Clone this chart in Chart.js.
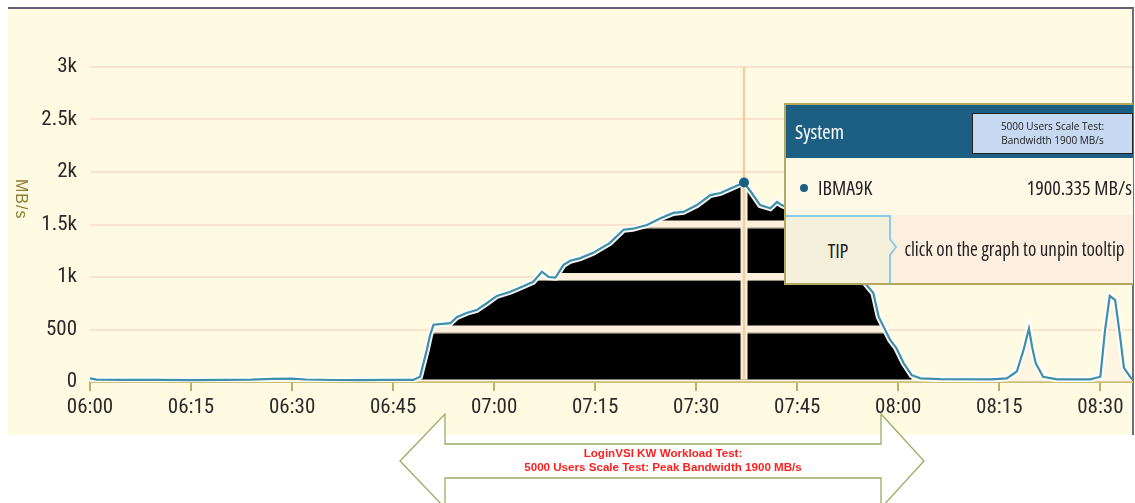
<!DOCTYPE html>
<html>
<head>
<meta charset="utf-8">
<script src="https://cdn.jsdelivr.net/npm/chart.js@4.4.0/dist/chart.umd.min.js"></script>
<style>
  html, body { margin:0; padding:0; background:#ffffff; width:1135px; height:503px; overflow:hidden; }
  body { position:relative; font-family:'Open Sans','Roboto Condensed',sans-serif; font-stretch:condensed; }
  #frame { position:absolute; left:8px; top:7px; width:1124px; height:426px; background:#fffbe3; border-top:2px solid #5f6272; border-right:2px solid #6c6e7c; }
  #wrap { position:absolute; left:0; top:0; width:1135px; height:503px; }
  #ylab { position:absolute; left:1px; top:190px; width:40px; text-align:center; transform:rotate(90deg); color:#8c7b30; font-family:'Liberation Sans','DejaVu Sans',sans-serif; font-stretch:normal; font-size:16px; letter-spacing:1px; }
  #tip { position:absolute; left:784px; top:103px; width:347px; height:178px; border:2px solid #b3a85e; border-right:none; background:#fdf9e6; }
  #tiphead { position:absolute; left:0; top:0; width:347px; height:53px; background:#1c5f83; }
  #tiphead .sys { position:absolute; left:9px; top:13px; color:#ffffff; font-size:20px; }
  #note { position:absolute; left:186px; top:8px; width:161px; height:41px; background:#c6d9f1; border:1px solid #222; font-family:'Open Sans','Noto Sans',sans-serif; font-stretch:normal; font-size:10px; line-height:14px; color:#1a1a1a; text-align:center; padding-top:5px; box-sizing:border-box; }
  #row { position:absolute; left:0; top:53px; width:347px; height:57px; }
  #row .dot { position:absolute; left:14px; top:26px; width:8px; height:8px; border-radius:50%; background:#1c5f83; }
  #row .name { position:absolute; left:32px; top:16px; font-size:20px; color:#222; }
  #row .val { position:absolute; right:1px; top:16px; font-size:20px; color:#222; }
  #tiprow { position:absolute; left:0; top:110px; width:347px; height:68px; background:#fcefdf; }
  #tiprow .lbl { position:absolute; left:0; top:0; width:104px; height:66px; background:#f5f0dc; border-top:2px solid #8ccbe8; }
  #tiprow svg { position:absolute; left:98px; top:0; }
  #tiprow .lbl span { position:absolute; left:0; width:104px; top:20px; text-align:center; font-size:20px; color:#222; }
  #tiprow .msg { position:absolute; left:110px; width:237px; top:21px; text-align:center; font-size:19px; color:#222; white-space:nowrap; }
  #arrow { position:absolute; left:0; top:0; }
  #atext { position:absolute; left:440px; top:446px; width:446px; text-align:center; color:#ff1f1f; font-family:'Liberation Sans','Arial',sans-serif; font-stretch:normal; font-weight:bold; font-size:11.6px; line-height:14px; }
</style>
</head>
<body>
<div id="frame"></div>
<div id="wrap"><canvas id="c" width="1135" height="503"></canvas></div>
<div id="ylab">MB/s</div>

<svg id="arrow" width="1135" height="503">
  <polygon points="400,461 445,414 445,444 881,444 881,414 924,461 881,508 881,478 445,478 445,508" fill="#ffffff" stroke="#9aad62" stroke-width="1.3"/>
</svg>
<div id="atext">LoginVSI KW Workload Test:<br>5000 Users Scale Test: Peak Bandwidth 1900 MB/s</div>

<div id="tip">
  <div id="tiphead"><span class="sys">System</span>
    <div id="note">5000 Users Scale Test:<br>Bandwidth 1900 MB/s</div>
  </div>
  <div id="row"><div class="dot"></div><span class="name">IBMA9K</span><span class="val">1900.335 MB/s</span></div>
  <div id="tiprow">
    <div class="lbl"><span>TIP</span></div>
    <svg width="14" height="68"><polyline points="6,0 6,24 12,32 6,40 6,68" fill="#f5f0dc" stroke="#8ccbe8" stroke-width="2"/></svg>
    <div class="msg">click on the graph to unpin tooltip</div>
  </div>
</div>

<script>
// ---- data (minutes after 06:00, MB/s) ----
const times = [0,1,5,10,15,20,24,27,30,32,36,40,44,48,49,50,50.5,51,53.5,54.5,56,57.4,58.9,60.4,62.4,64.4,65.8,67.1,68.1,69.1,70.3,71.3,72.8,74.7,77.2,79.2,80.6,82.7,84.7,86.6,88.1,90.1,92.1,93.6,95.5,97.1,98.3,99.5,101,102,102.7,104,106,108,110,112.5,114,114.9,116.3,117.1,118.8,119.7,120.8,122,123.3,126.2,133.7,136.1,137.6,138.6,139.4,139.9,140.4,141.5,143.6,148.5,150,150.7,151.4,152.2,153,153.5,154.7];
const mbps = [35,22,20,21,18,20,22,30,32,24,19,18,20,20,50,305,450,545,560,620,660,685,750,820,860,915,955,1050,1000,995,1115,1155,1180,1230,1325,1450,1460,1495,1560,1610,1620,1685,1780,1800,1855,1900,1795,1685,1655,1715,1685,1650,1600,1540,1470,1350,1120,955,848,620,400,325,180,65,35,28,25,35,100,305,510,325,180,50,25,25,50,495,820,780,400,135,25];
const peakWindow = [49, 122];               // highlighted (black) test window
const xTickLabels = ['06:00','06:15','06:30','06:45','07:00','07:15','07:30','07:45','08:00','08:15','08:30'];
const yTickLabels = ['0','500','1k','1.5k','2k','2.5k','3k'];

const linePts = times.map((t,i)=>({x:t, y:mbps[i]}));
const blackPts = times.map((t,i)=>({x:t, y:(t>=peakWindow[0] && t<=peakWindow[1]) ? mbps[i] : null}));
const peakIdx = mbps.indexOf(Math.max(...mbps));
const AXFONT = "'Roboto Condensed','Liberation Sans',sans-serif";

const overlay = {
  id:'overlay',
  afterDatasetDraw(chart, args){
    if (args.index !== 1) return;
    const ctx = chart.ctx, xs = chart.scales.x, ys = chart.scales.y, ca = chart.chartArea;
    const pts = chart.getDatasetMeta(1).data.filter(p=>!p.skip);
    const base = ys.getPixelForValue(25);
    const cx = xs.getPixelForValue(times[peakIdx]);
    ctx.save();
    ctx.beginPath();
    ctx.moveTo(pts[0].x, base);
    pts.forEach(p=>ctx.lineTo(p.x, p.y));
    ctx.lineTo(pts[pts.length-1].x, base);
    ctx.closePath();
    ctx.clip();
    [500,1000,1500,2000,2500].forEach(v=>{
      const y = ys.getPixelForValue(v);
      ctx.fillStyle = '#fcf0dd';
      ctx.fillRect(ca.left, y-4, ca.right-ca.left, 8);
      ctx.fillStyle = 'rgba(90,80,60,0.6)';
      ctx.fillRect(ca.left, y+3, ca.right-ca.left, 1);
    });
    ctx.fillStyle = '#fcf0dd';
    ctx.fillRect(cx-3.5, ca.top, 7, ca.bottom-ca.top);
    ctx.restore();
    ctx.save();
    ctx.strokeStyle = '#f0cfa2';
    ctx.lineWidth = 2.5;
    ctx.beginPath();
    ctx.moveTo(cx, ys.getPixelForValue(3000));
    ctx.lineTo(cx, ca.bottom);
    ctx.stroke();
    ctx.restore();
  }
};

new Chart(document.getElementById('c'), {
  type:'line',
  data:{
    datasets:[
      { data:linePts, order:4, borderWidth:0, borderColor:'rgba(0,0,0,0)', pointRadius:0, fill:{value:0}, backgroundColor:'rgba(250,232,222,0.3)', tension:0 },
      { data:blackPts, order:3, borderWidth:0, borderColor:'rgba(0,0,0,0)', pointRadius:0, fill:{value:25}, backgroundColor:'#000000', spanGaps:false, tension:0 },
      { data:linePts, order:2, borderWidth:6, borderColor:'rgba(255,255,255,0.95)', pointRadius:0, fill:false, tension:0 },
      { data:linePts, order:1, borderWidth:2.2, borderColor:'#3f8fa8', tension:0, fill:false,
        pointRadius:(c)=>c.dataIndex===peakIdx?5:0, pointBackgroundColor:'#1c5f83', pointBorderWidth:0 }
    ]
  },
  options:{
    responsive:false, animation:false, events:[],
    layout:{ padding:{ left:0, right:3, top:67, bottom:0 } },
    plugins:{ legend:{display:false}, tooltip:{enabled:false} },
    scales:{
      x:{ type:'linear', min:0, max:154.7,
        afterFit:(s)=>{ s.height = 121; },
        grid:{ drawOnChartArea:false, drawTicks:true, tickLength:9, color:'#bcae66', lineWidth:2 },
        border:{ display:true, color:'#cdbf78', width:2 },
        ticks:{ stepSize:15, includeBounds:false, autoSkip:false, maxRotation:0, padding:4, color:'#2a2a2a',
          font:{ family:AXFONT, size:21 },
          callback:(v)=>xTickLabels[Math.round(v/15)] }
      },
      y:{ min:0, max:3000,
        afterFit:(s)=>{ s.width = 90; },
        grid:{ color:'#fbe2cc', lineWidth:2, drawTicks:false },
        border:{ display:false },
        ticks:{ stepSize:500, padding:13, color:'#2a2a2a', font:{ family:AXFONT, size:21 },
          callback:(v)=>yTickLabels[Math.round(v/500)] }
      }
    }
  },
  plugins:[overlay]
});
</script>
</body>
</html>
